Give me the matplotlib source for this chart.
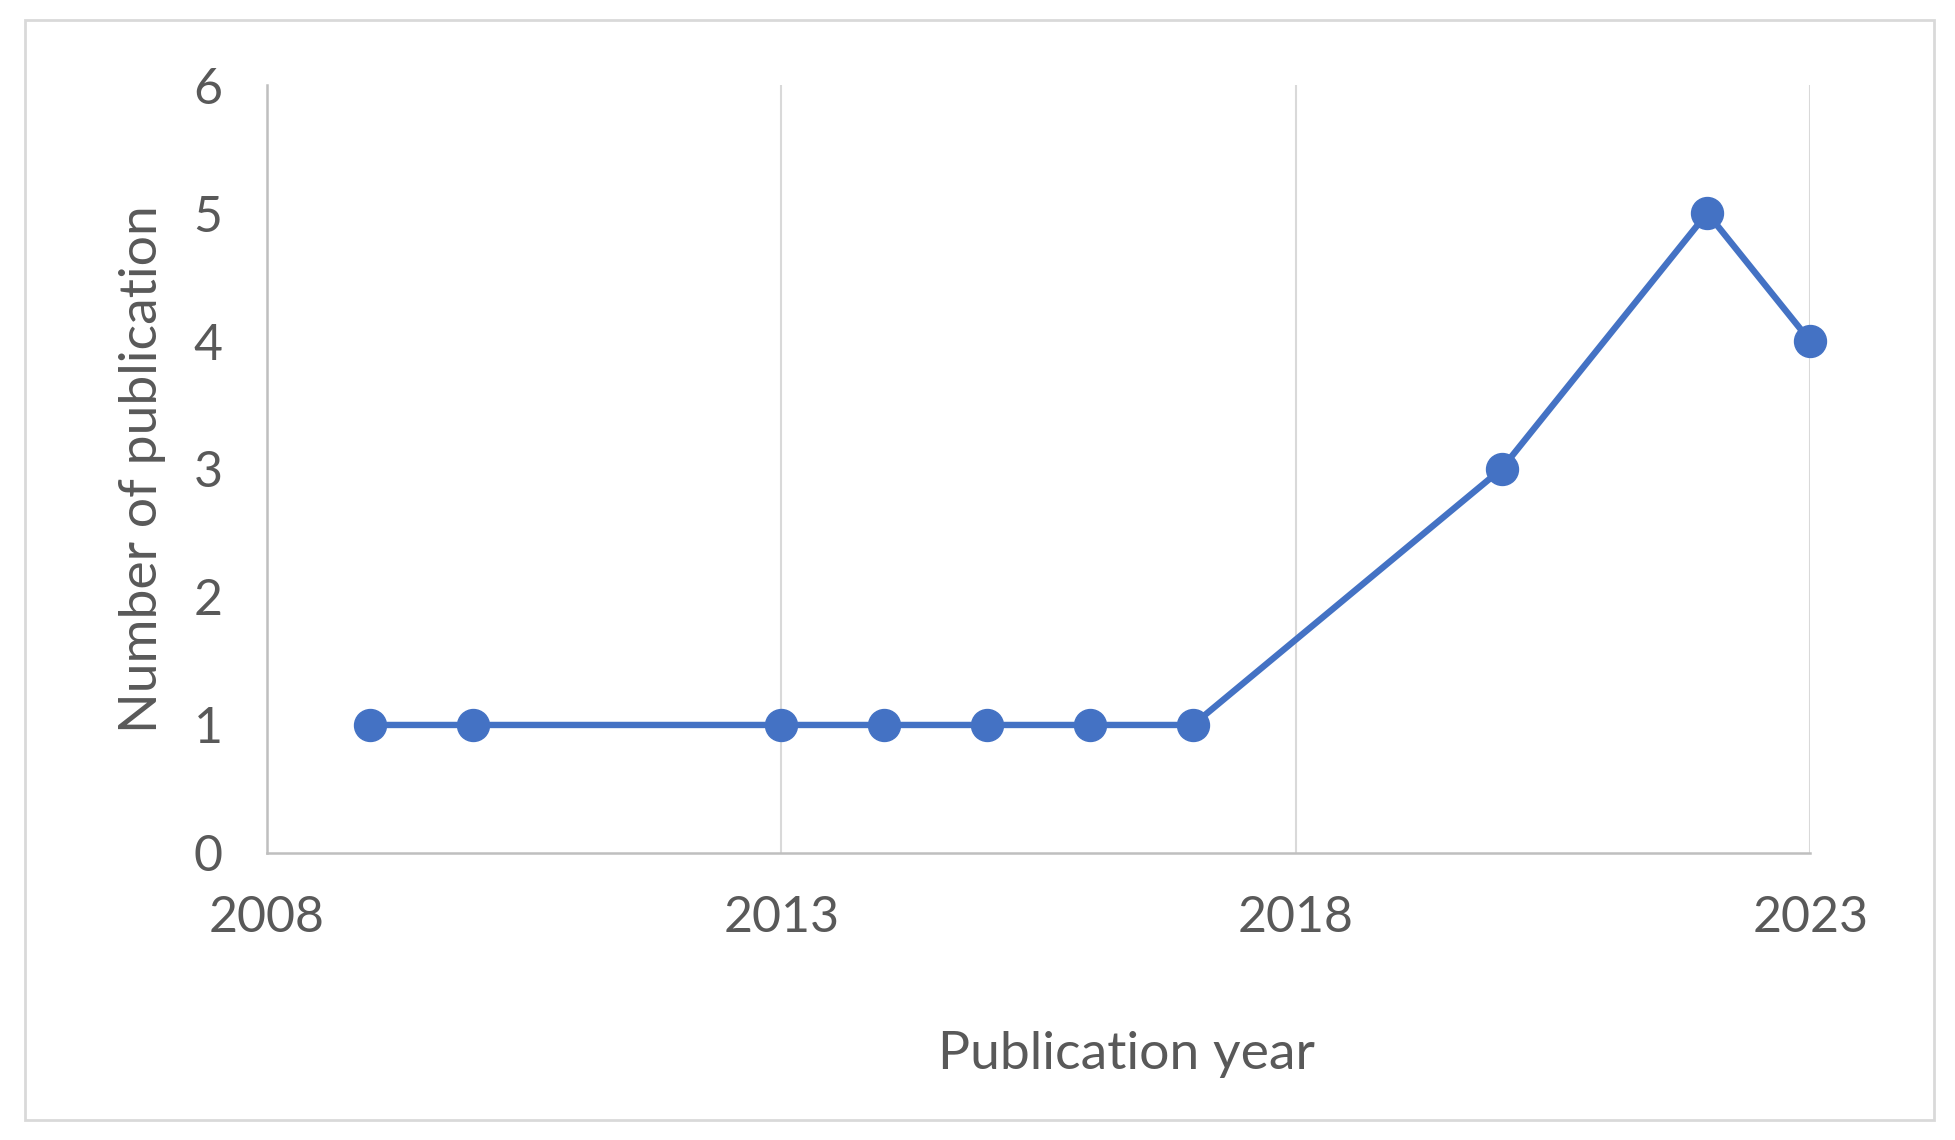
import matplotlib
matplotlib.use("Agg")
import matplotlib.pyplot as plt
from matplotlib.patches import Rectangle

# donnees
years = [2009, 2010, 2013, 2014, 2015, 2016, 2017, 2020, 2022, 2023]
counts = [1, 1, 1, 1, 1, 1, 1, 3, 5, 4]
x_ticks = [2008, 2013, 2018, 2023]
y_ticks = [0, 1, 2, 3, 4, 5, 6]

plt.rcParams["font.family"] = ["Lato", "DejaVu Sans"]
text_color = "#595959"

fig = plt.figure(figsize=(19.55, 11.4), dpi=100)
ax = fig.add_axes([0.1366, 0.2518, 0.7893, 0.6736])

# cadre exterieur (style Excel)
fig.patches.append(Rectangle((25 / 1955, 20 / 1140), 1909 / 1955, 1100 / 1140,
                             transform=fig.transFigure, fill=False,
                             edgecolor="#d9d9d9", linewidth=2))

ax.plot(years, counts, color="#4472C4", linewidth=4.6, marker="o",
        markersize=23, zorder=3, clip_on=False)

ax.set_xlim(2008, 2023)
ax.set_ylim(0, 6)
ax.set_xticks(x_ticks)
ax.set_yticks(y_ticks)
ax.grid(axis="x", color="#d9d9d9", linewidth=1.5)
ax.set_axisbelow(True)

for side in ["top", "right"]:
    ax.spines[side].set_visible(False)
for side in ["left", "bottom"]:
    ax.spines[side].set_color("#bfbfbf")
    ax.spines[side].set_linewidth(1.8)

ax.tick_params(length=0, labelsize=36, colors=text_color)
ax.tick_params(axis="y", pad=32)
ax.tick_params(axis="x", pad=30)

ax.set_xlabel("Publication year", fontsize=38.5, color=text_color, va="center")
ax.xaxis.set_label_coords(0.557, -0.262)
ax.set_ylabel("Number of publication", fontsize=38.5, color=text_color, labelpad=20)

fig.savefig("out.png", dpi=100, facecolor="white")
